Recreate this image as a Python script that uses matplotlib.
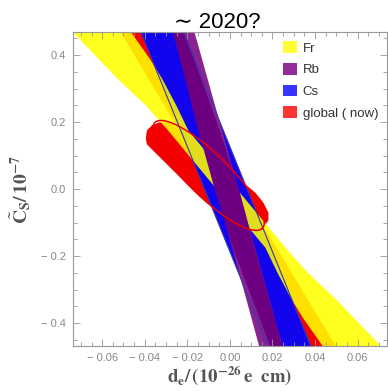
import numpy as np
import matplotlib.pyplot as plt
from matplotlib.patches import Polygon, Patch
from matplotlib.ticker import FixedLocator, MultipleLocator

plt.rcParams['mathtext.fontset'] = 'stix'

# centre of point symmetry of the projected bands
center = (-0.0014, 0.0)

# Fr (yellow) region, upper half: left and right edges (d_e, C_S)
fr_left_x = [-0.0740, -0.0610, -0.0529, -0.0395, -0.0290, -0.0062]
fr_left_y = [0.470, 0.384, 0.330, 0.250, 0.175, 0.000]
fr_right_x = [-0.0466, -0.0371, -0.0319, -0.0252, -0.0195, 0.0033]
fr_right_y = [0.470, 0.384, 0.330, 0.250, 0.175, 0.000]

# Cs (blue) straight band: x at top (C=0.47) and bottom (C=-0.47)
cs_left = [-0.0419, 0.0181]
cs_right = [-0.0219, 0.0381]
band_y = [0.47, -0.47]

# Rb (purple): outer band and inner darker region
rb_outer_left = [-0.0267, 0.0138]
rb_outer_right = [-0.0167, 0.0248]
rb_inner_left_x = [-0.0267, -0.0148, -0.0071, 0.0019, 0.0190]
rb_inner_right_x = [-0.0214, -0.0048, 0.0043, 0.0119, 0.0248]
rb_inner_y = [0.470, 0.175, -0.001, -0.183, -0.470]

# global (now): band plus central blob
glob_band_left = [-0.0514, 0.0367]
glob_band_right = [-0.0395, 0.0500]
blob_x = [-0.0395, -0.0390, -0.0367, -0.0333, -0.0290, -0.0157, 0.0067, 0.0119,
          0.0157, 0.0181, 0.0181, 0.0162, 0.0129, 0.0090, 0.0033, -0.0052,
          -0.0133, -0.0205, -0.0300, -0.0362, -0.0390]
blob_y = [0.151, 0.175, 0.190, 0.199, 0.199, 0.145, 0.017, -0.010,
          -0.040, -0.070, -0.093, -0.111, -0.120, -0.117, -0.105, -0.070,
          -0.025, 0.017, 0.077, 0.116, 0.134]

# current-fit ellipse outline: centre, half major and half minor axis vectors
ell_c = (-0.0100, 0.041)
ell_a = (0.0252, -0.158)
ell_b = (0.0070, 0.0442)

xticks = [-0.06, -0.04, -0.02, 0.0, 0.02, 0.04, 0.06]
xlabels = ['\u2212 0.06', '\u2212 0.04', '\u2212 0.02', '0.00', '0.02', '0.04', '0.06']
yticks = [-0.4, -0.2, 0.0, 0.2, 0.4]
ylabels = ['\u2212 0.4', '\u2212 0.2', '0.0', '0.2', '0.4']

legend_names = ['Fr', 'Rb', 'Cs', 'global ( now)']
legend_colors = ['#FFFF33', '#952D98', '#3535FF', '#FF3535']


def band(left, right):
    return [(left[0], band_y[0]), (right[0], band_y[0]),
            (right[1], band_y[1]), (left[1], band_y[1])]


def mirror(pts):
    cx, cy = center
    return [(2 * cx - x, 2 * cy - y) for x, y in pts]


fig = plt.figure(figsize=(3.88, 3.91), dpi=100)
ax = fig.add_axes([73 / 388, 45 / 391, 314 / 388, 314 / 391])

# global region (underneath)
ax.add_patch(Polygon(band(glob_band_left, glob_band_right), closed=True,
                     facecolor='#F50000', edgecolor='none'))
ax.add_patch(Polygon(list(zip(blob_x, blob_y)), closed=True,
                     facecolor='#F50000', edgecolor='none'))

# Cs
ax.add_patch(Polygon(band(cs_left, cs_right), closed=True,
                     facecolor='#1205EE', edgecolor='none'))

# Fr: upper half edges plus their point mirror
top_left = list(zip(fr_left_x, fr_left_y))
top_right = list(zip(fr_right_x, fr_right_y))
fr_poly = top_left + mirror(top_right)[-2::-1] + mirror(top_left)[:-1] + top_right[::-1]
ax.add_patch(Polygon(fr_poly, closed=True, facecolor='#FFFF00', alpha=0.88,
                     edgecolor='none'))

# Rb
ax.add_patch(Polygon(band(rb_outer_left, rb_outer_right), closed=True,
                     facecolor='#88238F', edgecolor='none'))
rb_inner = list(zip(rb_inner_left_x, rb_inner_y)) + list(zip(rb_inner_right_x, rb_inner_y))[::-1]
ax.add_patch(Polygon(rb_inner, closed=True, facecolor='#6C0080', edgecolor='none'))

# Cs boundary lines
ax.plot(cs_left, band_y, color='#3838B0', lw=0.8)
ax.plot(cs_right, band_y, color='#3838B0', lw=0.8)

# ellipse outline
t = np.linspace(0, 2 * np.pi, 200)
ax.plot(ell_c[0] + np.cos(t) * ell_a[0] + np.sin(t) * ell_b[0],
        ell_c[1] + np.cos(t) * ell_a[1] + np.sin(t) * ell_b[1],
        color='#F00000', lw=1.1)

ax.set_xlim(-0.0737, 0.0738)
ax.set_ylim(-0.468, 0.469)

ax.xaxis.set_major_locator(FixedLocator(xticks))
ax.set_xticklabels(xlabels)
ax.yaxis.set_major_locator(FixedLocator(yticks))
ax.set_yticklabels(ylabels)
ax.xaxis.set_minor_locator(MultipleLocator(0.005))
ax.yaxis.set_minor_locator(MultipleLocator(0.05))
ax.tick_params(which='both', direction='in', top=True, right=True,
               color='#999999', width=0.6, labelsize=8, labelcolor='#888888')
ax.tick_params(which='major', length=5, pad=5)
ax.tick_params(which='minor', length=3)
for lab in ax.get_xticklabels() + ax.get_yticklabels():
    lab.set_family('Liberation Sans')
for s in ax.spines.values():
    s.set_color('#999999')
    s.set_linewidth(0.8)

ax.set_ylabel(r'$\tilde{\mathbf{C}}_{\mathbf{S}}\mathbf{/\,10^{-7}}$',
              fontsize=14, color='#555555')
ax.yaxis.set_label_coords(-0.128, 0.5)
ax.set_xlabel(r'$\mathbf{d}_{\mathbf{e}}\mathbf{/\,(10^{-26}\,e\ \ cm)}$',
              fontsize=13.5, color='#555555')
ax.xaxis.set_label_coords(0.497, -0.058)

ax.text(0.46, 1.0127, '\u223c 2020?', transform=ax.transAxes, ha='center',
        va='baseline', fontsize=16, color='black',
        family=['Liberation Sans', 'DejaVu Sans'])

handles = [Patch(facecolor=c, edgecolor='none') for c in legend_colors]
leg = ax.legend(handles, legend_names, loc='upper left',
                bbox_to_anchor=(0.67, 0.97), frameon=False,
                handlelength=1.0, handleheight=1.0, labelspacing=0.62,
                handletextpad=0.45, borderaxespad=0, borderpad=0,
                prop={'family': 'Liberation Sans', 'size': 9.5})
for txt in leg.get_texts():
    txt.set_color('#333333')

fig.savefig('out.png', dpi=100)
